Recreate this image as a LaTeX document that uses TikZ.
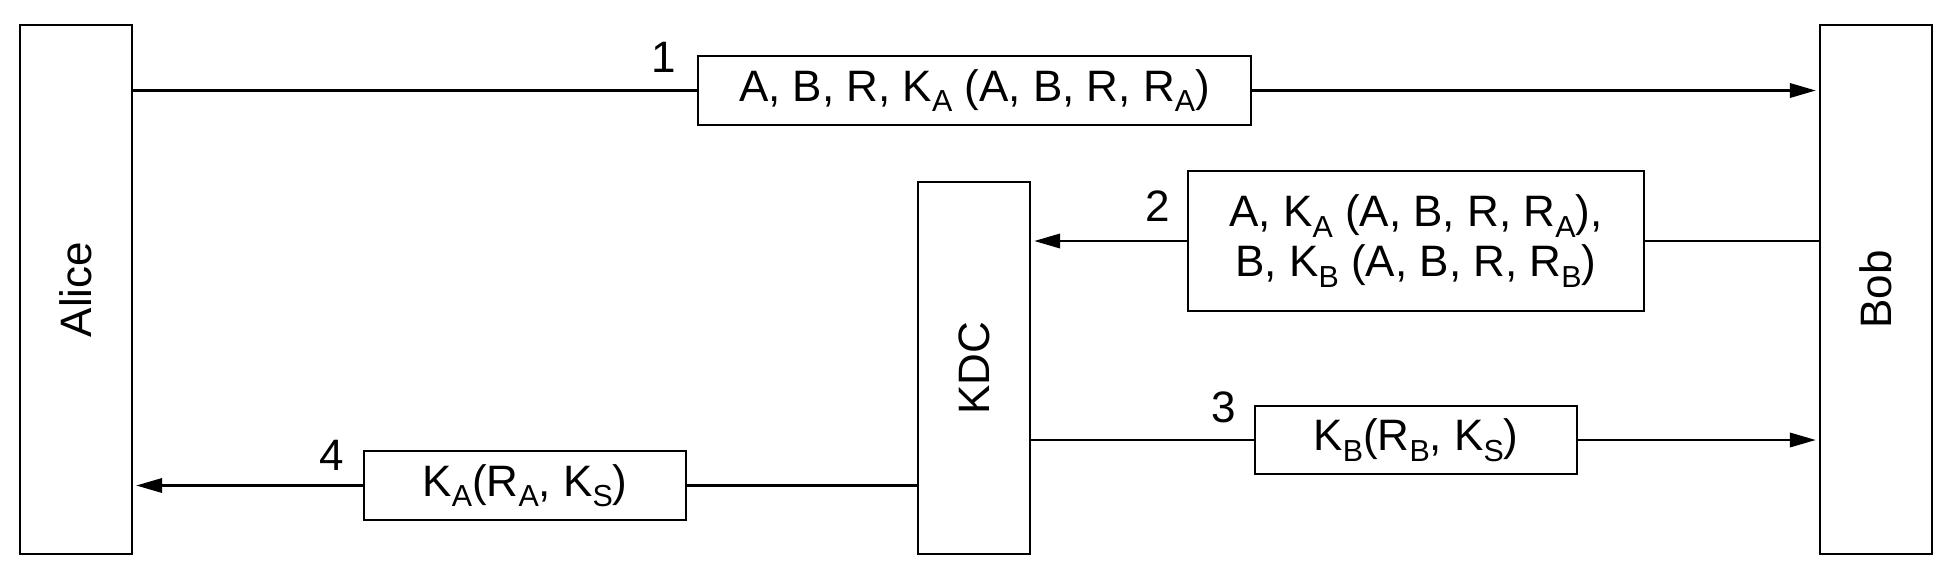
\documentclass[tikz,border=0pt]{standalone}
\usepackage{fontspec}
\setmainfont{Liberation Sans}
\usepackage{graphicx}
\usetikzlibrary{arrows.meta}

\newcommand\lowsub[1]{\raisebox{-2.6pt}{\fontsize{7.6pt}{7.6pt}\selectfont #1}}

\begin{document}
\begin{tikzpicture}[x=0.25pt, y=-0.25pt, line width=0.6pt,
        font=\fontsize{11pt}{12.5pt}\selectfont,
        party/.style={draw, rectangle, inner sep=0pt, minimum width=28pt, minimum height=132.25pt},
        msg/.style={draw, rectangle, inner sep=0pt, align=center},
        num/.style={anchor=east, inner sep=0pt},
        arr/.style={-{Triangle[length=6.5pt,width=3.6pt]}, shorten >=0.75pt}]
        \useasboundingbox (0,0) rectangle (1953,580);

        \node[party] (alice) at (76,289.5) {\rotatebox{90}{Alice}};
        \node[party] (bob) at (1876,289.5) {\rotatebox{90}{Bob}};
        \node[party, minimum height=93pt] (kdc) at (974,368) {\rotatebox{90}{KDC}};

        \node[msg, minimum width=138.25pt, minimum height=17.25pt] (m1) at (974.5,90.5) {A, B, R, K\lowsub{A} (A, B, R, R\lowsub{A})};
        \node[msg, minimum width=114pt, minimum height=35pt] (m2) at (1416,241) {A, K\lowsub{A} (A, B, R, R\lowsub{A}),\\ B, K\lowsub{B} (A, B, R, R\lowsub{B})};
        \node[msg, minimum width=80.5pt, minimum height=17pt] (m3) at (1416,440) {K\lowsub{B}(R\lowsub{B}, K\lowsub{S})};
        \node[msg, minimum width=80.5pt, minimum height=17.25pt] (m4) at (525,485.5) {K\lowsub{A}(R\lowsub{A}, K\lowsub{S})};

        \node[num] (n1) at ([shift={(-5pt,8.25pt)}]m1.west) {1};
        \node[num] (n2) at ([shift={(-4pt,8.75pt)}]m2.west) {2};
        \node[num] (n3) at ([shift={(-4.25pt,8.25pt)}]m3.west) {3};
        \node[num] (n4) at ([shift={(-4.5pt,7.5pt)}]m4.west) {4};

        \draw (alice.east |- m1.west) -- (m1.west);
        \draw[arr] (m1.east) -- (bob.west |- m1.east);
        \draw (bob.west |- m2.east) -- (m2.east);
        \draw[arr] (m2.west) -- (kdc.east |- m2.west);
        \draw (kdc.east |- m3.west) -- (m3.west);
        \draw[arr] (m3.east) -- (bob.west |- m3.east);
        \draw (kdc.west |- m4.east) -- (m4.east);
        \draw[arr] (m4.west) -- (alice.east |- m4.west);
    \end{tikzpicture}
\end{document}
